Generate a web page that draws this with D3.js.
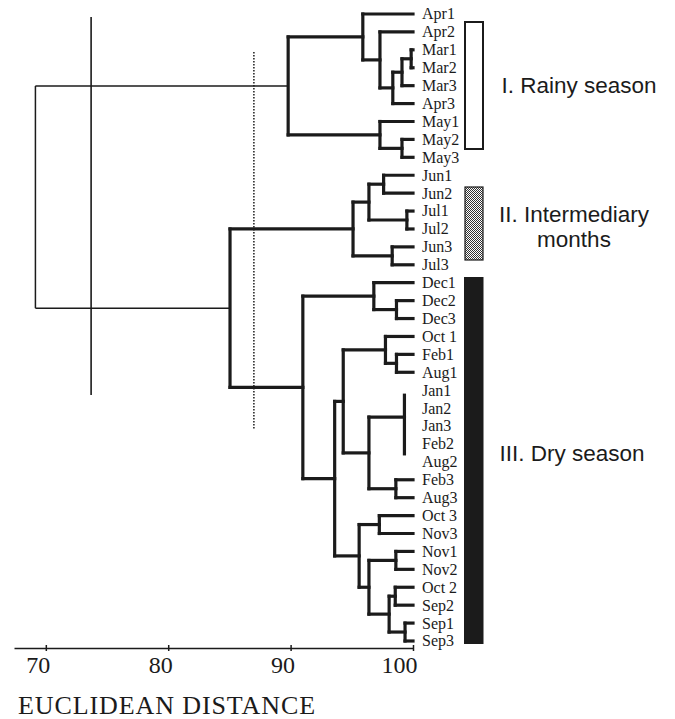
<!DOCTYPE html>
<html>
<head>
<meta charset="utf-8">
<script src="https://cdn.jsdelivr.net/npm/d3@7"></script>
<style>
  html, body { margin: 0; padding: 0; background: #fff; }
  svg { display: block; }
</style>
</head>
<body>
<svg id="chart" width="675" height="719"></svg>
<script>
// ---- data ----
const leafNames = ["Apr1","Apr2","Mar1","Mar2","Mar3","Apr3","May1","May2","May3",
  "Jun1","Jun2","Jul1","Jul2","Jun3","Jul3",
  "Dec1","Dec2","Dec3","Oct 1","Feb1","Aug1","Jan1","Jan2","Jan3","Feb2","Aug2",
  "Feb3","Aug3","Oct 3","Nov3","Nov1","Nov2","Oct 2","Sep2","Sep1","Sep3"];

// merges: [node id, children, fusion level (euclidean distance scale)]
const merges = [
  ["mar12",     ["Mar1","Mar2"],          99.85],
  ["mar123",    ["mar12","Mar3"],         99.1],
  ["marApr3",   ["mar123","Apr3"],        98.35],
  ["apr2grp",   ["Apr2","marApr3"],       97.3],
  ["aprgrp",    ["Apr1","apr2grp"],       95.9],
  ["may23",     ["May2","May3"],          99.1],
  ["maygrp",    ["May1","may23"],         97.3],
  ["rainy",     ["aprgrp","maygrp"],      89.8],
  ["jun12",     ["Jun1","Jun2"],          97.6],
  ["jul12",     ["Jul1","Jul2"],          99.5],
  ["junjul",    ["jun12","jul12"],        96.4],
  ["jun3jul3",  ["Jun3","Jul3"],          98.3],
  ["inter",     ["junjul","jun3jul3"],    95.1],
  ["dec23",     ["Dec2","Dec3"],          98.65],
  ["decgrp",    ["Dec1","dec23"],         96.8],
  ["febaug1",   ["Feb1","Aug1"],          98.65],
  ["oct1grp",   ["Oct 1","febaug1"],      97.75],
  ["jangrp",    ["Jan1","Jan2","Jan3","Feb2","Aug2"], 99.3],
  ["febaug3",   ["Feb3","Aug3"],          98.6],
  ["janfeb",    ["jangrp","febaug3"],     96.4],
  ["dryA",      ["oct1grp","janfeb"],     94.3],
  ["octnov3",   ["Oct 3","Nov3"],         97.25],
  ["nov12",     ["Nov1","Nov2"],          98.6],
  ["oct2sep2",  ["Oct 2","Sep2"],         98.55],
  ["sep13",     ["Sep1","Sep3"],          99.35],
  ["sepgrp",    ["oct2sep2","sep13"],     98.05],
  ["novsep",    ["nov12","sepgrp"],       96.4],
  ["dryB",      ["octnov3","novsep"],     95.6],
  ["dryAB",     ["dryA","dryB"],          93.6],
  ["dry",       ["decgrp","dryAB"],       91.0],
  ["interdry",  ["inter","dry"],          85.05],
  ["root",      ["rainy","interdry"],     69.15]
];

const axisTicks = [70, 80, 90, 100];
const solidCut = 73.7;
const dottedCut = 87.0;
const groupLabels = [["I. Rainy season"], ["II. Intermediary", "months"], ["III. Dry season"]];
const axisTitle = "EUCLIDEAN DISTANCE";

// ---- build hierarchy ----
const nodeMap = new Map();
leafNames.forEach(n => nodeMap.set(n, {name: n, level: 100}));
merges.forEach(([id, kids, h]) => nodeMap.set(id, {name: id, level: h, children: kids.map(k => nodeMap.get(k))}));
const root = d3.hierarchy(nodeMap.get("root"));

const x = d3.scaleLinear().domain([67.4, 100]).range([14, 413]);
const y = d3.scalePoint().domain(leafNames).range([14, 641]);

root.eachAfter(d => {
  if (d.children) {
    const n = d.children.length;
    // binary joins sit midway; the tied multi-leaf group sits at the mean of its first four members
    d.py = n <= 2
      ? (d.children[0].py + d.children[n - 1].py) / 2
      : d3.mean(d.children.slice(0, n - 1), c => c.py);
  } else {
    d.py = y(d.data.name);
  }
});

const svg = d3.select("#chart");
const ink = "#1b1b1b";

// pattern for intermediary box
const defs = svg.append("defs");
const pat = defs.append("pattern").attr("id", "stipple").attr("patternUnits", "userSpaceOnUse")
  .attr("width", 2).attr("height", 2);
pat.append("rect").attr("width", 2).attr("height", 2).attr("fill", "#fff");
pat.append("rect").attr("x", 0).attr("y", 0).attr("width", 1).attr("height", 1).attr("fill", "#333");
pat.append("rect").attr("x", 1).attr("y", 1).attr("width", 1).attr("height", 1).attr("fill", "#333");

// reference lines
svg.append("line")
  .attr("x1", x(solidCut)).attr("x2", x(solidCut))
  .attr("y1", 17).attr("y2", 395)
  .attr("stroke", ink).attr("stroke-width", 1.6);
svg.append("line")
  .attr("x1", x(dottedCut)).attr("x2", x(dottedCut))
  .attr("y1", 52).attr("y2", 430)
  .attr("stroke", ink).attr("stroke-width", 1.5)
  .attr("stroke-dasharray", "1.5,1.5");

// dendrogram
const dg = svg.append("g").attr("fill", "none").attr("stroke", ink);
root.descendants().forEach(d => {
  if (d.children) {
    const thin = d.depth === 0;
    const n = d.children.length;
    const y1 = n <= 2 ? d.children[0].py : d.children[0].py + 5;
    const y2 = n <= 2 ? d.children[n - 1].py : d.children[n - 1].py - 8;
    dg.append("line")
      .attr("x1", x(d.data.level)).attr("x2", x(d.data.level))
      .attr("y1", y1).attr("y2", y2)
      .attr("stroke-width", thin ? 1.5 : 3.2)
      .attr("stroke-linecap", thin ? "butt" : "square");
  }
  if (d.parent && d.parent.children.length <= 2) {
    const thin = d.parent.depth === 0;
    dg.append("line")
      .attr("x1", x(d.parent.data.level)).attr("x2", x(d.data.level))
      .attr("y1", d.py).attr("y2", d.py)
      .attr("stroke-width", thin ? 1.5 : 3.2)
      .attr("stroke-linecap", thin ? "butt" : "square");
  }
});

// leaf labels
svg.append("g")
  .selectAll("text")
  .data(root.leaves())
  .join("text")
  .attr("x", 422)
  .attr("y", d => d.py)
  .attr("dy", "0.34em")
  .attr("font-family", "Liberation Serif, Times New Roman, serif")
  .attr("font-size", 16)
  .attr("fill", ink)
  .text(d => d.data.name);

// group boxes
svg.append("rect").attr("x", 465).attr("y", 22).attr("width", 18).attr("height", 127)
  .attr("fill", "#fff").attr("stroke", ink).attr("stroke-width", 2);
svg.append("rect").attr("x", 465).attr("y", 187).attr("width", 18).attr("height", 73)
  .attr("fill", "url(#stipple)").attr("stroke", ink).attr("stroke-width", 1.2);
svg.append("rect").attr("x", 464).attr("y", 277).attr("width", 19.5).attr("height", 367)
  .attr("fill", ink);

// group labels
const labelFont = "Liberation Sans, Arial, sans-serif";
const glPos = [{cx: 579, y: 93}, {cx: 574, y: 222}, {cx: 572, y: 461}];
groupLabels.forEach((lines, i) => {
  const t = svg.append("text")
    .attr("text-anchor", "middle")
    .attr("font-family", labelFont)
    .attr("font-size", 22.5)
    .attr("fill", ink);
  lines.forEach((ln, j) => {
    t.append("tspan").attr("x", glPos[i].cx).attr("y", glPos[i].y + j * 25).text(ln);
  });
});

// axis
const axis = d3.axisBottom(x).tickValues(axisTicks).tickSizeInner(3).tickSizeOuter(0).tickFormat(d3.format("d"));
const ag = svg.append("g").attr("transform", "translate(0,648)").call(axis);
ag.select(".domain").attr("stroke", ink).attr("stroke-width", 1.5);
ag.selectAll(".tick line").attr("y1", -3).attr("y2", 3).attr("stroke", ink).attr("stroke-width", 1.5);
ag.selectAll(".tick text")
  .attr("text-anchor", "end")
  .attr("x", 4).attr("y", 25).attr("dy", 0)
  .attr("font-family", "Liberation Serif, Times New Roman, serif")
  .attr("font-size", 24)
  .attr("fill", ink);

svg.append("text")
  .attr("x", 18).attr("y", 714)
  .attr("font-family", "Liberation Serif, Times New Roman, serif")
  .attr("font-size", 26)
  .attr("letter-spacing", 0.9)
  .attr("fill", ink)
  .text(axisTitle);
</script>
</body>
</html>
